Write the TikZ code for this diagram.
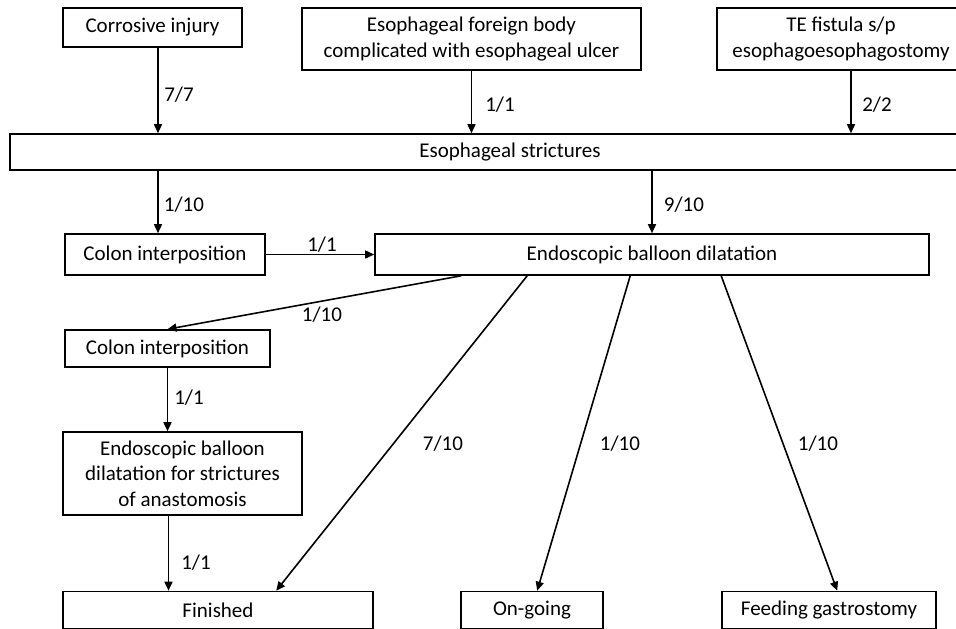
\documentclass[tikz,border=0pt]{standalone}
\usepackage{fontspec}
\setmainfont{Carlito}
\usetikzlibrary{arrows.meta}
\tikzset{
  box/.style={draw, line width=1.6pt, inner sep=0pt, align=center, font=\fontsize{21}{25.5}\selectfont},
  lbl/.style={inner sep=0pt, font=\fontsize{21}{24}\selectfont},
  arr/.style={line width=1.6pt, -{Triangle[length=9pt,width=8pt]}}
}
\begin{document}
\begin{tikzpicture}[x=1pt,y=-1pt]
\useasboundingbox (0,0) rectangle (956,629);
\clip (0,0) rectangle (956,629);
% boxes
\node[box, minimum width=179pt, minimum height=39pt] (cor) at (152.5,27.5) {Corrosive injury};
\node[box, minimum width=339pt, minimum height=62pt] (fb) at (471.5,39) {Esophageal foreign body\\complicated with esophageal ulcer};
\node[box, minimum width=248pt, minimum height=62pt] (te) at (841,39) {TE fistula s/p\\esophagoesophagostomy};
\node[box, minimum width=1000pt, minimum height=36pt] (es) at (510,152) {Esophageal strictures};
\node[box, minimum width=200pt, minimum height=41pt] (ci1) at (165,254.5) {Colon interposition};
\node[box, minimum width=554pt, minimum height=41pt] (ebd) at (652,254.5) {Endoscopic balloon dilatation};
\node[box, minimum width=205pt, minimum height=37pt] (ci2) at (167.5,348.5) {Colon interposition};
\node[box, minimum width=239pt, minimum height=83pt] (ebda) at (182.5,473.5) {Endoscopic balloon\\dilatation for strictures\\of anastomosis};
\node[box, minimum width=310pt, minimum height=37pt] (fin) at (218,610) {Finished};
\node[box, minimum width=142pt, minimum height=37pt] (ong) at (532,610) {On-going};
\node[box, minimum width=214pt, minimum height=37pt] (fg) at (829,610) {Feeding gastrostomy};
% arrows
\draw[arr] ([xshift=5.5pt]cor.south) -- ([xshift=5.5pt]cor.south |- es.north);
\draw[arr] (fb.south) -- (fb.south |- es.north);
\draw[arr] ([xshift=10pt]te.south) -- ([xshift=10pt]te.south |- es.north);
\draw[arr] ([xshift=-7pt]ci1.north |- es.south) -- ([xshift=-7pt]ci1.north);
\draw[arr] (ebd.north |- es.south) -- (ebd.north);
\draw[arr] (ci1.east) -- (ebd.west);
\draw[arr] ([xshift=87pt]ebd.south west) -- (ci2.north);
\draw[arr] (ci2.south) -- (ci2.south |- ebda.north);
\draw[arr] ([xshift=-14pt]ebda.south) -- ([xshift=-14pt]ebda.south |- fin.north);
\draw[arr] ([xshift=153pt]ebd.south west) -- ([xshift=214pt]fin.north west);
\draw[arr] ([xshift=256pt]ebd.south west) -- ([xshift=77pt]ong.north west);
\draw[arr] ([xshift=347pt]ebd.south west) -- ([xshift=116pt]fg.north west);
% labels
\node[lbl] (l1) at (179,95) {7/7};
\node[lbl] (l2) at (500,105) {1/1};
\node[lbl] (l3) at (877,105) {2/2};
\node[lbl] (l4) at (184,205) {1/10};
\node[lbl] (l5) at (684,205) {9/10};
\node[lbl] (l6) at (322,245) {1/1};
\node[lbl] (l7) at (322,315) {1/10};
\node[lbl] (l8) at (189,398) {1/1};
\node[lbl] (l9) at (443,444) {7/10};
\node[lbl] (l10) at (196,563) {1/1};
\node[lbl] (l11) at (620,444) {1/10};
\node[lbl] (l12) at (818,444) {1/10};
\end{tikzpicture}
\end{document}
